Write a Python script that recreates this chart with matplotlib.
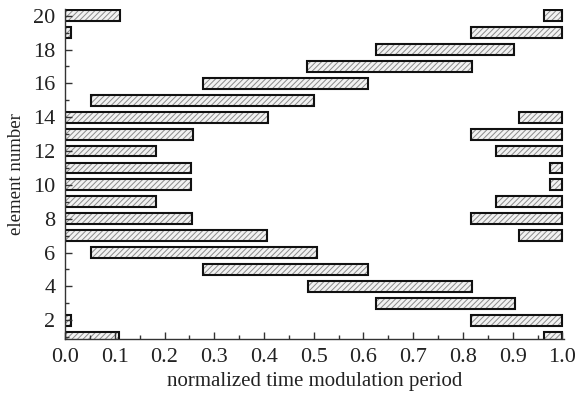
import matplotlib
matplotlib.use("Agg")
import matplotlib.pyplot as plt
from matplotlib.ticker import MultipleLocator

# element index and the "on" interval inside one modulation period
# (when on_end < on_start the interval wraps around the period)
elements = list(range(1, 21))
on_start = [0.963, 0.816, 0.625, 0.488, 0.277, 0.052, 0.912, 0.816, 0.866, 0.974,
            0.974, 0.866, 0.816, 0.912, 0.052, 0.277, 0.486, 0.625, 0.816, 0.963]
on_end = [0.108, 0.012, 0.904, 0.818, 0.610, 0.506, 0.406, 0.256, 0.182, 0.253,
          0.253, 0.182, 0.257, 0.408, 0.500, 0.610, 0.818, 0.903, 0.012, 0.110]

x_ticks = [0.0, 0.1, 0.2, 0.3, 0.4, 0.5, 0.6, 0.7, 0.8, 0.9, 1.0]
y_ticks = [2, 4, 6, 8, 10, 12, 14, 16, 18, 20]

plt.rcParams["font.family"] = ["Liberation Serif", "DejaVu Serif"]
plt.rcParams["hatch.linewidth"] = 0.7


def split_intervals():
    ys, lefts, widths = [], [], []
    for e, s, t in zip(elements, on_start, on_end):
        if t >= s:
            ys.append(e); lefts.append(s); widths.append(t - s)
        else:
            ys.append(e); lefts.append(s); widths.append(1.0 - s)
            ys.append(e); lefts.append(0.0); widths.append(t)
    return ys, lefts, widths


def main():
    fig = plt.figure(figsize=(5.79, 3.99), dpi=100)
    ax = fig.add_axes([0.1123, 0.1496, 0.8617, 0.8271])

    ys, lefts, widths = split_intervals()
    h = 0.64
    # hatch layer (grey lines), then black outline on top
    ax.barh(ys, widths, left=lefts, height=h, facecolor="#f2f2f2",
            edgecolor="#8a8a8a", hatch="//////", linewidth=0)
    ax.barh(ys, widths, left=lefts, height=h, fill=False,
            edgecolor="#111111", linewidth=1.5)

    ax.set_xlim(0, 1.003)
    ax.set_ylim(0.87, 20.38)
    ax.set_xticks(x_ticks)
    ax.set_xticklabels([f"{v:.1f}" for v in x_ticks])
    ax.set_yticks(y_ticks)
    ax.xaxis.set_minor_locator(MultipleLocator(0.05))
    ax.yaxis.set_minor_locator(MultipleLocator(1))

    for side in ["top", "right"]:
        ax.spines[side].set_visible(False)
    for side in ["left", "bottom"]:
        ax.spines[side].set_linewidth(1.0)
        ax.spines[side].set_color("#333333")

    ax.tick_params(which="major", direction="in", length=5, width=1.0,
                   labelsize=16, colors="#333333", labelcolor="#222222")
    ax.tick_params(which="minor", direction="in", length=3, width=1.0,
                   colors="#333333")
    ax.tick_params(axis="x", which="major", pad=6)
    ax.tick_params(axis="y", which="major", pad=7)

    ax.set_xlabel("normalized time modulation period", fontsize=15,
                  color="#222222", labelpad=4)
    ax.set_ylabel("element number", fontsize=13.5, color="#222222", labelpad=6)

    fig.savefig("out.png", dpi=100)
    plt.close(fig)


if __name__ == "__main__":
    main()
